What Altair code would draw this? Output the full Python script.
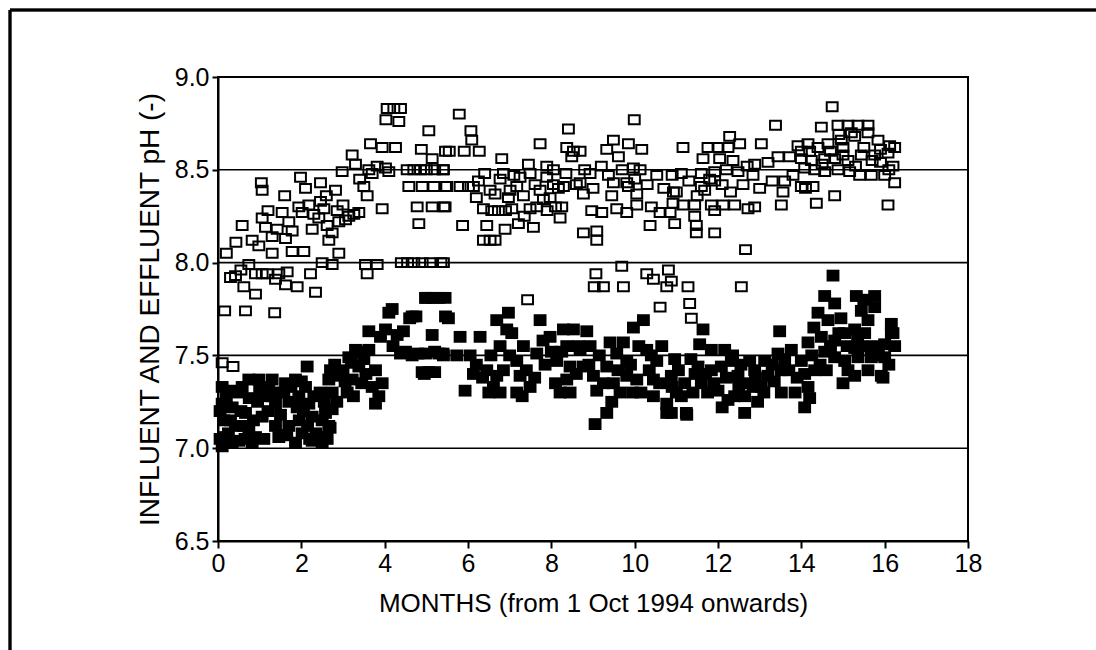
import altair as alt
import pandas as pd

# Effluent pH (open squares): months, pH
eff_month = [
 4.06,4.22,4.38,4.03,4.34,5.06,3.66,3.94,4.26,3.22,4.88,5.14,5.46,
 3.62,3.82,4.02,3.70,4.10,2.98,3.30,1.98,1.04,1.06,2.10,2.46,2.82,3.50,3.58,3.94,
 4.54,4.70,4.86,5.00,5.20,5.40,4.58,4.90,5.18,5.46,4.78,5.14,5.42,4.82,
 0.58,0.43,0.82,1.06,1.54,1.94,2.18,2.46,2.86,3.38,3.06,2.62,2.26,1.78,1.42,1.14,0.98,1.30,1.78,2.06,2.66,2.74,2.02,2.42,3.14,
 1.70,2.30,2.90,3.26,1.62,1.30,2.54,
 0.74,0.90,1.06,1.18,1.46,1.66,1.38,0.42,0.62,0.90,1.90,2.22,2.50,2.74,3.54,3.82,3.58,2.34,1.62,0.30,0.55,
 4.40,4.55,4.70,4.90,5.10,5.35,0.16,0.66,1.36,0.36,0.10,
 5.79,6.07,6.09,5.55,5.91,6.27,6.81,7.73,8.41,8.37,8.53,8.69,8.49,
 9.99,9.49,9.85,9.33,9.61,10.17,9.97,10.13,10.53,7.45,7.89,8.05,5.41,
 5.49,5.81,6.01,6.13,6.77,6.53,7.01,7.17,7.49,7.73,7.89,8.17,8.29,7.97,
 8.93,8.69,8.77,8.97,9.21,9.37,9.49,9.81,9.85,10.05,9.57,9.81,10.05,
 10.61,10.85,10.93,10.37,5.45,5.87,6.37,6.57,6.73,7.05,7.49,7.81,8.25,8.21,
 6.45,6.89,7.21,7.57,6.37,6.53,6.65,8.77,9.09,9.09,
 6.25,6.65,6.97,7.33,7.61,8.05,7.25,6.85,
 9.69,9.07,9.03,9.25,9.73,10.29,10.45,10.81,10.77,10.61,7.43,5.41,
 14.74,13.38,11.16,12.28,11.76,12.00,12.24,12.52,13.04,
 14.48,14.88,15.12,15.36,15.60,
 13.92,14.16,14.40,14.64,14.96,15.28,15.60,15.84,16.12,16.24,
 13.44,13.72,14.00,14.24,14.56,14.80,15.12,15.44,15.76,16.08,
 14.08,14.32,14.56,14.88,15.16,15.40,15.68,16.00,
 11.12,11.60,11.92,12.20,12.48,12.84,13.20,12.88,12.36,12.04,11.64,
 16.24,14.80,16.08,11.00,11.60,11.92,11.68,
 13.60,13.56,14.00,14.28,14.36,13.52,
 10.92,11.16,11.44,11.84,12.12,12.40,12.88,11.92,12.72,
 10.96,11.44,11.48,11.48,11.92,12.66,
 10.88,11.28,12.56,11.32,11.36,
 14.20,14.70,15.00,15.50,15.90,14.50,15.30,15.90,16.20,15.00,14.00,15.70,16.10,15.20,14.90,
 6.20,6.40,6.90,7.10,7.35,7.65,7.90,8.10,8.35,8.60,8.80,9.00,9.20,9.45,9.70,10.00,10.30,10.40,
 10.70,10.90,11.30,11.50,11.80,12.10,12.30,12.60,12.70,13.00,13.30,13.80,14.10,2.60,3.00,3.40,
 0.20,1.20,1.60,2.90,
]
eff_ph = [
 8.83,8.83,8.83,8.77,8.76,8.71,8.64,8.62,8.62,8.58,8.61,8.56,8.60,
 8.50,8.52,8.51,8.48,8.49,8.49,8.53,8.46,8.43,8.39,8.40,8.43,8.39,8.41,8.36,8.29,
 8.50,8.50,8.50,8.50,8.50,8.50,8.41,8.41,8.41,8.41,8.30,8.30,8.30,8.21,
 8.20,8.11,8.12,8.24,8.27,8.30,8.31,8.33,8.28,8.27,8.23,8.20,8.18,8.17,8.18,8.19,8.09,8.05,8.06,8.06,8.12,8.16,8.27,8.24,8.25,
 8.22,8.26,8.22,8.26,8.13,8.14,8.29,
 7.99,7.94,7.94,7.94,7.94,7.95,7.91,7.93,7.87,7.83,7.87,7.94,8.00,7.99,7.99,7.99,7.94,7.84,7.88,7.92,7.96,
 8.00,8.00,8.00,8.00,8.00,8.00,7.74,7.74,7.73,7.44,7.46,
 8.80,8.71,8.66,8.60,8.60,8.60,8.56,8.64,8.72,8.62,8.60,8.60,8.57,
 8.77,8.66,8.64,8.61,8.57,8.61,8.51,8.50,8.47,8.53,8.52,8.50,8.50,
 8.41,8.41,8.41,8.41,8.45,8.39,8.39,8.41,8.48,8.39,8.46,8.40,8.41,8.35,
 8.48,8.43,8.37,8.28,8.27,8.47,8.43,8.43,8.41,8.37,8.29,8.27,8.31,
 8.27,8.27,8.38,8.20,8.30,8.20,8.29,8.28,8.28,8.29,8.29,8.34,8.30,8.24,
 8.20,8.18,8.21,8.19,8.12,8.12,8.12,8.16,8.17,8.12,
 8.44,8.37,8.35,8.36,8.42,8.42,8.46,8.48,
 7.98,7.94,7.87,7.87,7.87,7.94,7.91,7.96,7.87,7.76,7.80,8.00,
 8.84,8.74,8.62,8.68,8.62,8.62,8.62,8.64,8.64,
 8.73,8.74,8.74,8.74,8.74,
 8.63,8.64,8.62,8.64,8.66,8.68,8.70,8.66,8.63,8.62,
 8.57,8.57,8.56,8.55,8.56,8.56,8.55,8.58,8.58,8.59,
 8.51,8.50,8.49,8.50,8.49,8.47,8.47,8.47,
 8.48,8.48,8.49,8.50,8.49,8.47,8.54,8.53,8.55,8.56,8.56,
 8.43,8.36,8.31,8.38,8.41,8.44,8.39,
 8.44,8.38,8.41,8.41,8.32,8.31,
 8.32,8.31,8.31,8.31,8.31,8.31,8.30,8.28,8.29,
 8.21,8.25,8.20,8.16,8.16,8.07,
 7.90,7.87,7.87,7.78,7.70,
 8.60,8.60,8.62,8.62,8.61,8.53,8.52,8.54,8.52,8.58,8.60,8.55,8.50,8.70,8.69,
 8.35,8.48,8.28,8.47,8.25,8.30,8.28,8.30,8.48,8.42,8.50,8.40,8.52,8.36,8.50,8.45,8.42,8.30,
 8.40,8.47,8.44,8.36,8.45,8.42,8.38,8.42,8.52,8.40,8.44,8.47,8.40,8.36,8.31,8.45,
 8.05,8.28,8.36,8.05,
]

# Influent pH (filled squares): months, pH
inf_month = [
 0.10,0.34,0.58,0.10,0.34,0.14,0.18,0.42,0.66,0.74,0.50,0.90,1.06,1.14,1.30,1.62,1.86,1.38,1.58,1.94,
 2.18,2.26,2.58,2.66,2.42,2.02,1.70,1.46,1.38,0.98,0.74,1.22,0.34,0.10,0.82,1.86,2.26,2.50,2.74,2.10,
 2.14,2.70,2.66,2.94,2.74,3.10,3.22,3.38,3.14,3.30,3.62,3.78,3.94,3.86,3.78,2.69,
 3.62,4.02,4.30,4.38,4.66,4.18,4.10,4.66,4.98,5.30,5.14,4.98,5.30,4.90,5.06,5.46,
 5.45,5.53,5.81,5.41,5.73,6.05,6.29,5.93,
 6.13,6.45,6.69,6.61,6.77,7.17,7.25,7.49,7.17,6.77,6.69,6.97,6.93,7.33,7.65,7.73,7.97,8.29,8.53,8.85,
 8.37,8.69,8.93,8.13,8.45,8.37,8.21,8.45,8.77,9.09,9.01,9.33,9.41,9.73,9.57,9.81,9.49,9.81,10.05,9.97,
 10.21,10.29,10.53,10.45,10.45,10.77,10.77,9.33,9.05,
 11.64,11.56,11.84,12.16,10.96,10.88,11.12,11.24,10.88,
 11.52,11.60,11.84,12.00,12.08,12.32,12.48,12.40,12.64,12.84,12.88,12.64,12.76,13.12,13.44,13.76,14.00,
 14.08,14.16,14.32,13.52,13.20,13.52,14.08,13.04,12.24,13.48,11.25,
 14.76,14.56,14.80,14.40,14.64,14.16,14.48,14.80,15.04,15.28,15.32,15.44,15.76,15.76,15.60,15.52,
 16.16,16.16,16.00,15.68,15.36,15.28,15.04,15.12,15.28,15.92,14.56,14.80,16.00,16.24,15.96,
 0.05,0.25,0.45,0.55,0.65,0.85,0.95,1.10,1.20,1.45,1.50,1.55,1.70,1.75,1.95,2.05,2.15,2.30,2.35,2.50,
 2.55,2.62,0.20,0.05,1.00,1.30,2.00,
 2.80,2.85,3.00,3.05,3.20,3.40,3.50,3.55,3.45,3.70,3.90,3.25,
 4.20,4.50,4.80,5.20,5.40,4.60,4.75,5.00,5.15,4.95,5.20,4.45,
 6.20,6.35,6.50,6.85,7.00,7.05,7.40,7.60,7.85,8.00,8.10,8.60,8.65,8.90,9.15,9.25,9.60,9.65,9.90,10.10,
 10.15,10.35,10.60,10.65,10.90,11.05,11.20,11.35,11.40,11.70,11.90,12.20,12.55,12.70,12.95,13.30,13.60,
 13.90,14.25,14.45,14.70,14.90,15.10,15.45,15.60,15.85,16.10,16.20,14.30,14.95,15.50,
 11.00,11.45,11.75,12.10,12.35,12.50,12.90,13.10,13.35,13.70,13.85,14.20,14.60,15.00,15.35,15.75,
 9.45,9.95,10.40,8.25,7.80,6.55,7.30,
 0.30,0.75,1.65,2.20,2.45,0.60,1.90,
]
inf_ph = [
 7.33,7.31,7.33,7.24,7.22,7.15,7.06,7.12,7.19,7.10,7.04,7.06,7.17,7.28,7.37,7.35,7.37,7.24,7.30,7.28,
 7.24,7.17,7.19,7.12,7.06,7.08,7.12,7.06,7.12,7.37,7.37,7.33,7.03,7.01,7.03,7.03,7.04,7.03,7.21,7.33,
 7.44,7.42,7.37,7.39,7.30,7.30,7.37,7.44,7.49,7.53,7.53,7.42,7.35,7.28,7.24,7.11,
 7.63,7.64,7.61,7.51,7.50,7.75,7.73,7.71,7.81,7.81,7.61,7.51,7.51,7.41,7.41,7.71,
 7.81,7.70,7.60,7.50,7.50,7.50,7.60,7.31,
 7.40,7.42,7.39,7.33,7.30,7.30,7.39,7.33,7.47,7.55,7.69,7.73,7.64,7.55,7.51,7.69,7.60,7.64,7.64,7.63,
 7.55,7.53,7.55,7.47,7.44,7.37,7.30,7.30,7.44,7.31,7.39,7.44,7.57,7.57,7.51,7.47,7.35,7.39,7.37,7.65,
 7.69,7.53,7.47,7.37,7.28,7.24,7.19,7.19,7.13,
 7.64,7.56,7.53,7.53,7.48,7.39,7.28,7.19,7.19,
 7.44,7.35,7.42,7.31,7.44,7.47,7.39,7.28,7.28,7.33,7.42,7.19,7.47,7.47,7.51,7.53,7.47,
 7.40,7.33,7.42,7.42,7.39,7.30,7.22,7.33,7.26,7.63,7.18,
 7.93,7.82,7.78,7.73,7.69,7.57,7.60,7.58,7.62,7.64,7.82,7.74,7.82,7.76,7.69,7.62,
 7.67,7.62,7.56,7.49,7.49,7.54,7.47,7.42,7.39,7.39,7.52,7.49,7.49,7.55,7.38,
 7.05,7.08,7.30,7.20,7.05,7.15,7.25,7.05,7.20,7.30,7.18,7.07,7.25,7.33,7.15,7.20,7.12,7.28,7.08,7.15,
 7.25,7.05,7.28,7.20,7.31,7.28,7.36,
 7.45,7.25,7.42,7.36,7.46,7.52,7.48,7.40,7.35,7.33,7.60,7.28,
 7.55,7.52,7.51,7.52,7.51,7.70,7.71,7.81,7.81,7.40,7.41,7.63,
 7.45,7.38,7.30,7.42,7.50,7.62,7.42,7.38,7.45,7.52,7.35,7.40,7.55,7.45,7.50,7.35,7.42,7.30,7.45,7.55,
 7.30,7.42,7.35,7.55,7.33,7.42,7.35,7.48,7.30,7.40,7.35,7.38,7.45,7.35,7.25,7.45,7.48,
 7.38,7.50,7.45,7.55,7.62,7.55,7.55,7.42,7.50,7.45,7.62,7.65,7.70,7.80,
 7.30,7.40,7.30,7.22,7.50,7.33,7.38,7.30,7.36,7.42,7.30,7.27,7.42,7.35,7.60,7.55,
 7.25,7.30,7.50,7.52,7.58,7.50,7.28,
 7.15,7.27,7.07,7.05,7.30,7.12,7.22,
]

eff = pd.DataFrame({"month": eff_month, "ph": eff_ph})
inf = pd.DataFrame({"month": inf_month, "ph": inf_ph})

FONT = "Liberation Sans"

xscale = alt.Scale(domain=[0, 18], nice=False, zero=False)
yscale = alt.Scale(domain=[6.5, 9.0], nice=False, zero=False)

xaxis = alt.Axis(
    values=list(range(0, 19, 2)), title="MONTHS (from 1 Oct 1994 onwards)",
    grid=False, domainColor="black", domainWidth=2, tickColor="black", tickWidth=2,
    tickSize=7, labelPadding=3, labelFont=FONT, labelFontSize=25, labelColor="black",
    titleFont=FONT, titleFontSize=26, titleFontWeight="normal", titleColor="black",
    titleY=62, titleBaseline="middle", labelFlush=False,
)
yaxis = alt.Axis(
    values=[6.5, 7.0, 7.5, 8.0, 8.5, 9.0], format=".1f", title="INFLUENT AND EFFLUENT pH (-)",
    grid=False, domainColor="black", domainWidth=2, tickColor="black", tickWidth=2,
    tickSize=6, labelPadding=3, labelFont=FONT, labelFontSize=25, labelColor="black",
    titleFont=FONT, titleFontSize=28, titleFontWeight="normal", titleColor="black",
    titleX=-68, titleY=232, titleAngle=-90, titleBaseline="middle", labelFlush=False,
)

grid_vals = pd.DataFrame({"g": [7.0, 7.5, 8.0, 8.5]})
grid = alt.Chart(grid_vals).mark_rule(color="black", strokeWidth=1.6).encode(
    y=alt.Y("g:Q", scale=yscale, axis=yaxis)
)

open_shape = "M-1,-0.82H1V0.82H-1Z"
fill_shape = "M-1,-0.92H1V0.92H-1Z"

pts_eff = alt.Chart(eff).mark_point(
    shape=open_shape, size=118, filled=False, color="black", strokeWidth=2, opacity=1
).encode(
    x=alt.X("month:Q", scale=xscale, axis=xaxis),
    y=alt.Y("ph:Q", scale=yscale, axis=yaxis),
)
pts_inf = alt.Chart(inf).mark_point(
    shape=fill_shape, size=165, filled=True, color="black", opacity=1
).encode(
    x=alt.X("month:Q", scale=xscale, axis=xaxis),
    y=alt.Y("ph:Q", scale=yscale, axis=yaxis),
)

frame_left = alt.Chart(grid_vals).mark_rule(color="black", strokeWidth=2.5, clip=False).encode(
    x=alt.value(-208), y=alt.value(-67), y2=alt.value(575)
)
frame_top = alt.Chart(grid_vals).mark_rule(color="black", strokeWidth=2.5, clip=False).encode(
    x=alt.value(-208), x2=alt.value(878), y=alt.value(-67)
)

chart = alt.layer(grid, pts_inf, pts_eff, frame_left, frame_top).properties(
    width=750, height=464,
    padding={"left": 218, "top": 77, "right": 128, "bottom": 109},
    autosize=alt.AutoSizeParams(type="none"),
    background="white",
).configure_view(stroke="black", strokeWidth=2)

chart.save("out.html", embed_options={"renderer": "svg", "actions": False})
